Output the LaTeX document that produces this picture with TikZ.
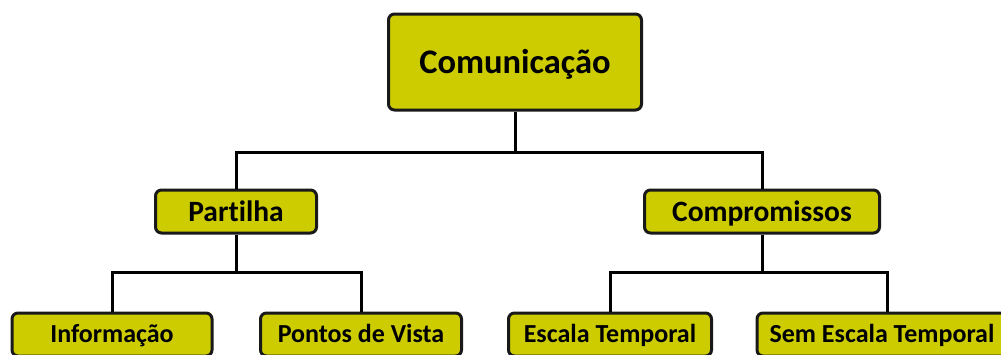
\documentclass[tikz,border=0pt]{standalone}
\usepackage{fontspec}
\setmainfont{Carlito}[Ligatures=NoCommon]
\usetikzlibrary{positioning}
\definecolor{boxfill}{RGB}{204,204,0}
\definecolor{boxline}{RGB}{25,25,25}

\begin{document}
\begin{tikzpicture}[
    x=1pt, y=-1pt,
    treebox/.style={draw=boxline, fill=boxfill, rounded corners=6pt, line width=3pt,
                    minimum height=43pt, inner sep=0pt, text depth=0pt},
    midbox/.style={treebox, text height=19pt,
                   font=\fontsize{29.5}{34}\selectfont\bfseries},
    lowbox/.style={treebox, text height=16.8pt,
                   font=\fontsize{26}{31}\selectfont\bfseries},
    topbox/.style={treebox, minimum width=253pt, minimum height=96pt, text height=22pt,
                   font=\fontsize{34.5}{40}\selectfont\bfseries},
    link/.style={line width=3pt, color=black},
]
\useasboundingbox (0,0) rectangle (1001,354);
\clip (0,0) rectangle (1001,354);

% ============ LEVEL 0 ============
\node[topbox] (com) at (515,62) {Comunicação};

% ============ LEVEL 1 ============
\node[midbox, minimum width=161pt] (part) at (236,211.5) {Partilha};
\node[midbox, minimum width=235pt] (comp) at (762,211.5) {Compromissos};

% ============ LEVEL 2 ============
\node[lowbox, minimum width=200pt] (info) at (112,334.5) {Informação};
\node[lowbox, minimum width=201pt] (pont) at (361,334.5) {Pontos de Vista};
\node[lowbox, minimum width=203pt] (esc)  at (610,334.5) {Escala Temporal};
\node[lowbox, minimum width=260pt] (sem)  at (887,334.5) {\hspace*{-10pt}Sem Escala Temporal};

% ============ CONNECTORS ============
\coordinate (j0) at (515,152);
\coordinate (j1) at (236,272);
\coordinate (j2) at (762,272);

\draw[link] (com.south) -- (j0);
\draw[link] (part.north) |- (j0) -| (comp.north);
\draw[link] (part.south) -- (j1);
\draw[link] (info.north) |- (j1) -| (pont.north);
\draw[link] (comp.south) -- (j2);
\draw[link] (esc.north) |- (j2) -| (sem.north);

\end{tikzpicture}
\end{document}
